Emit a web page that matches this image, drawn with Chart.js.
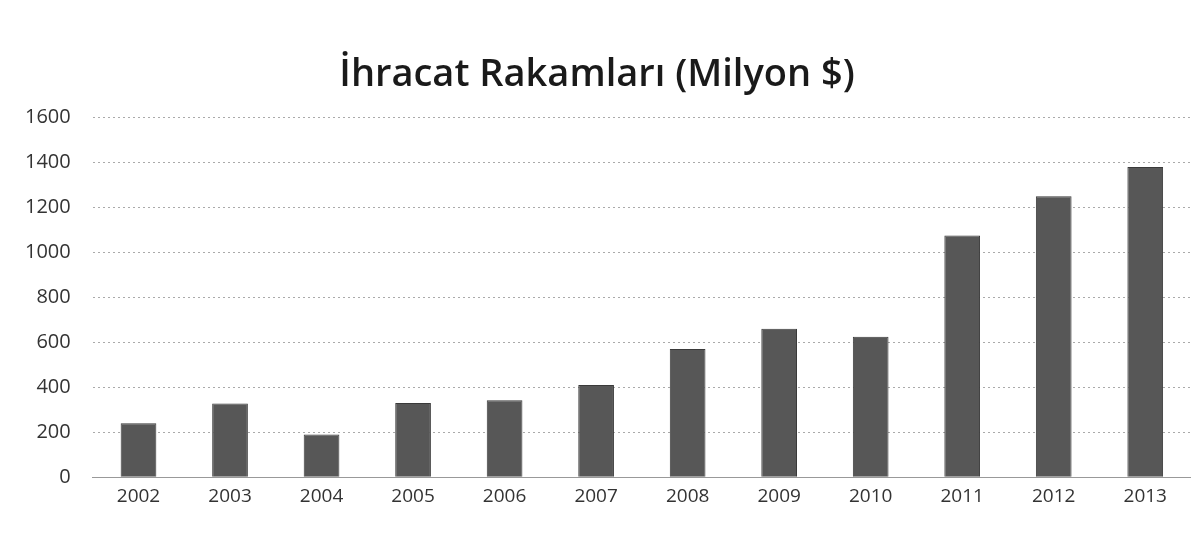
<!DOCTYPE html>
<html><head><meta charset="utf-8">
<script src="https://cdn.jsdelivr.net/npm/chart.js@4/dist/chart.umd.min.js"></script>
<style>html,body{margin:0;padding:0;background:#fff}#wrap{width:1191px;height:538px}</style>
</head><body><div id="wrap"><canvas id="c" width="1191" height="538"></canvas></div>
<script>
const titleText = "İhracat Rakamları (Milyon $)";
const years = ["2002","2003","2004","2005","2006","2007","2008","2009","2010","2011","2012","2013"];
const exports = [240, 328, 190, 330, 342, 410, 570, 660, 625, 1075, 1250, 1380];
const yTicks = [0, 200, 400, 600, 800, 1000, 1200, 1400, 1600];

new Chart(document.getElementById('c'), {
  type: 'bar',
  data: { labels: years, datasets: [{ data: exports, backgroundColor: '#575757', borderColor: '#3a3a3a', borderWidth: 1, categoryPercentage: 1, barPercentage: 0.39 }] },
  options: {
    responsive: false, animation: false,
    layout: { padding: { left: 3, right: 0, top: 52, bottom: 22 } },
    plugins: {
      legend: { display: false }, tooltip: { enabled: false },
      title: { display: true, text: titleText, color: '#1a1a1a', font: { family: 'Open Sans', size: 38, weight: '600' }, padding: { top: 0, bottom: 20 } }
    },
    scales: {
      x: { grid: { display: false, drawTicks: false }, border: { display: true, color: '#999', dash: [2,2] },
           ticks: { color: '#333', font: { family: 'Open Sans', size: 19 }, padding: 8 } },
      y: { min: 0, max: 1600, afterBuildTicks: (s) => { s.ticks = yTicks.map(v => ({ value: v })); },
           grid: { color: '#aaa', drawTicks: false }, border: { display: false, dash: [2,3] },
           ticks: { color: '#333', font: { family: 'Open Sans', size: 20 }, padding: 22, callback: (v) => String(v) } }
    }
  }
});
</script></body></html>
